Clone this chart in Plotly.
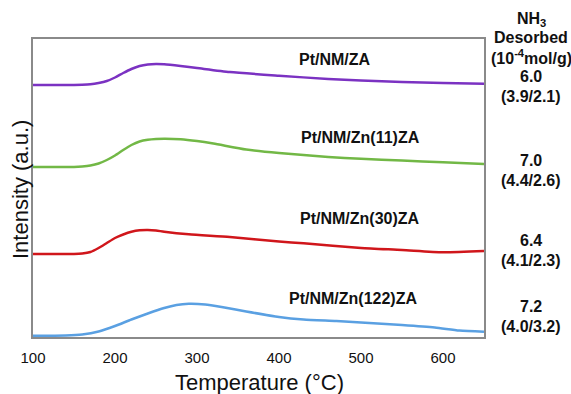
import plotly.graph_objects as go

# Temperatures (°C) and intensities (arbitrary units, curves already offset)
za_t = [100, 150, 160, 170, 180, 190, 200, 210, 220, 230, 240, 250, 260, 280, 300, 340, 400, 460, 500, 550, 600, 650]
za_y = [252, 252, 252.2, 252.7, 254, 256, 259.5, 264, 268, 271, 272.5, 273, 272.7, 271, 269, 265, 261.3, 258, 256.5, 255, 254, 253.2]

zn11_t = [100, 150, 160, 170, 180, 190, 200, 210, 220, 230, 240, 250, 260, 280, 300, 320, 360, 400, 460, 500, 550, 600, 650]
zn11_y = [170, 170, 170.5, 171.5, 173.5, 177, 181.5, 187, 192, 195.5, 197.2, 198, 198.3, 197.8, 196, 193.5, 187.5, 184, 180, 178.2, 176.5, 174.7, 173]

zn30_t = [100, 150, 160, 170, 180, 190, 200, 210, 220, 230, 240, 250, 260, 290, 340, 400, 430, 500, 550, 600, 650]
zn30_y = [83, 83, 83.5, 85, 89, 94, 99, 102.5, 105.2, 106.7, 107, 106.5, 105.3, 102.7, 100, 95.5, 93.7, 89, 87, 84.7, 86]

zn122_t = [100, 140, 160, 180, 200, 220, 240, 260, 275, 290, 310, 330, 360, 400, 430, 470, 500, 550, 590, 620, 650]
zn122_y = [1.3, 1.5, 2.5, 5.5, 11, 17.5, 23.5, 29, 32, 33.2, 32.5, 30, 25.5, 20, 17.5, 16, 14.5, 12, 9.5, 6.5, 5.3]

series_names = ["Pt/NM/ZA", "Pt/NM/Zn(11)ZA", "Pt/NM/Zn(30)ZA", "Pt/NM/Zn(122)ZA"]
series_t = [za_t, zn11_t, zn30_t, zn122_t]
series_y = [za_y, zn11_y, zn30_y, zn122_y]
colors = ["#7B32C2", "#72B846", "#D0161B", "#5AA0E2"]

nh3_total = ["6.0", "7.0", "6.4", "7.2"]
nh3_split = ["(3.9/2.1)", "(4.4/2.6)", "(4.1/2.3)", "(4.0/3.2)"]
x_ticks = [100, 200, 300, 400, 500, 600]

W, H = 571, 394
L, R, T, B = 33, 87, 39, 57
FONT = "Arial, Liberation Sans, sans-serif"

def px(xp):
    return (xp - L) / (W - L - R)

def py(yp):
    return (H - B - yp) / (H - T - B)

fig = go.Figure()
for name, tt, yy, col in zip(series_names, series_t, series_y, colors):
    fig.add_trace(go.Scatter(x=tt, y=yy, mode="lines", name=name,
                             line=dict(color=col, width=2.5, shape="spline", smoothing=0.6)))

# series labels (pixel positions)
label_pos = [(335, 60), (360, 137), (360, 218), (353, 298)]
for name, (lx, ly) in zip(series_names, label_pos):
    fig.add_annotation(x=px(lx), y=py(ly), xref="x domain", yref="y domain",
                       text="<b>" + name + "</b>", showarrow=False,
                       xanchor="center", yanchor="middle",
                       font=dict(family=FONT, size=16, color="#111"))

right_lines = [("<b>NH<sub>3</sub></b>", 19), ("<b>Desorbed</b>", 38), ("<b>(10<sup>-4</sup>mol/g)</b>", 57)]
tot_y = [76, 160, 240, 306]
for i in range(4):
    right_lines.append(("<b>" + nh3_total[i] + "</b>", tot_y[i]))
    right_lines.append(("<b>" + nh3_split[i] + "</b>", tot_y[i] + 20))
for txt, yp in right_lines:
    fig.add_annotation(x=px(531), y=py(yp), xref="x domain", yref="y domain", text=txt,
                       showarrow=False, xanchor="center", yanchor="middle",
                       font=dict(family=FONT, size=16, color="#111"))

# axis titles
fig.add_annotation(x=px(259), y=py(382), xref="x domain", yref="y domain", text="Temperature (°C)",
                   showarrow=False, xanchor="center", yanchor="middle",
                   font=dict(family=FONT, size=22, color="#111"))
fig.add_annotation(x=px(20), y=py(190), xref="x domain", yref="y domain", text="Intensity (a.u.)",
                   showarrow=False, xanchor="center", yanchor="middle", textangle=-90,
                   font=dict(family=FONT, size=22, color="#111"))

fig.update_layout(
    width=W, height=H, margin=dict(l=L, r=R, t=T, b=B),
    paper_bgcolor="white", plot_bgcolor="white", showlegend=False,
    font=dict(family=FONT, color="#111"),
)
fig.update_xaxes(range=[100, 650], tickvals=x_ticks, ticks="", showgrid=False, zeroline=False,
                 showline=True, mirror=True, linecolor="#8a8a8a", linewidth=1.5,
                 tickfont=dict(size=15, color="#111"), ticklabelstandoff=6)
fig.update_yaxes(range=[0, 298], showticklabels=False, ticks="", showgrid=False, zeroline=False,
                 showline=True, mirror=True, linecolor="#8a8a8a", linewidth=1.5)

fig.write_html("out.html")
